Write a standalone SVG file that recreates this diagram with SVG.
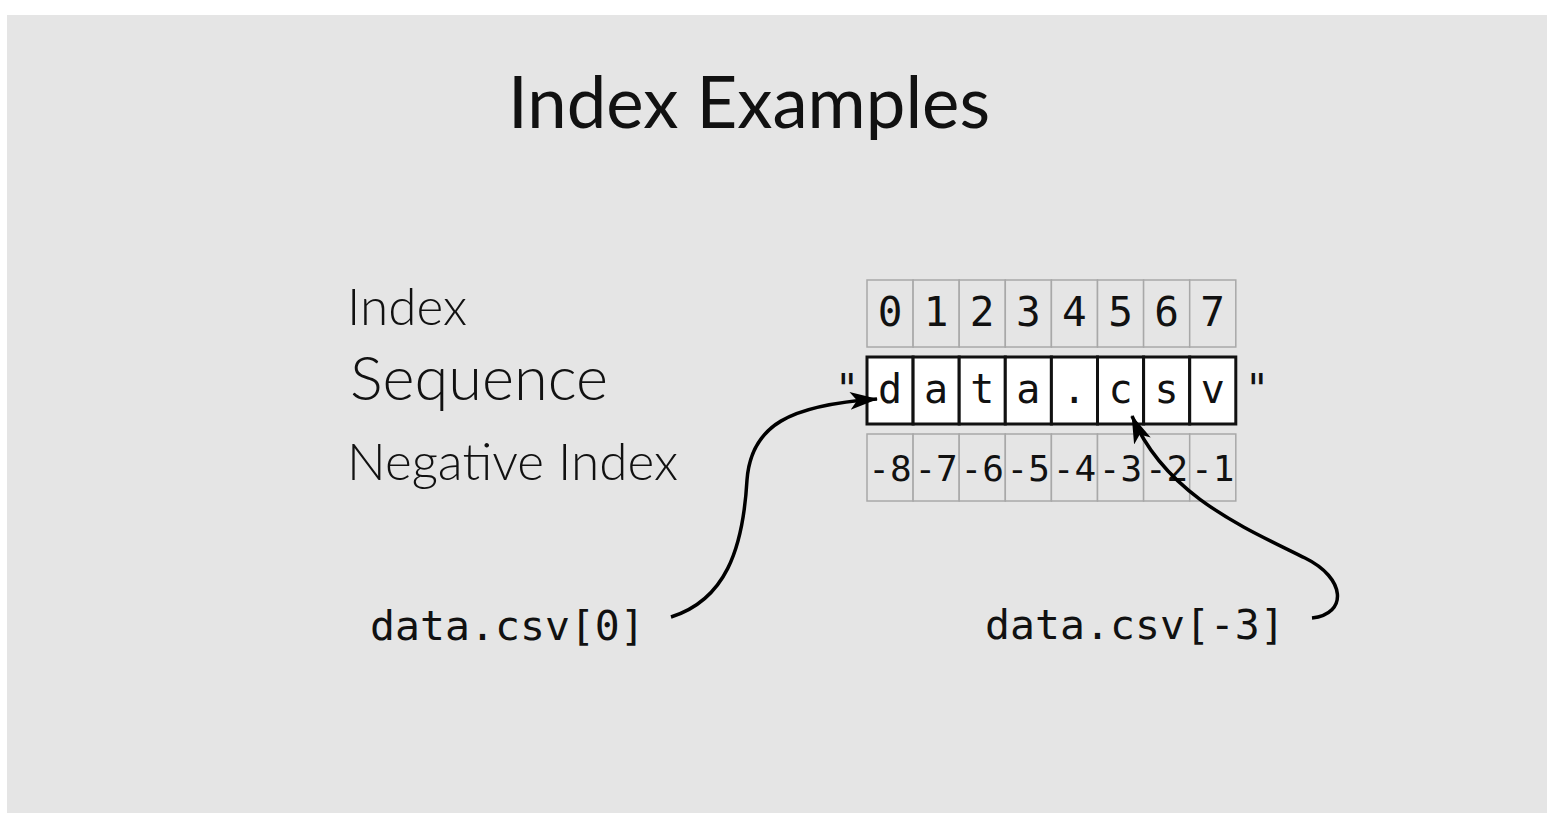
<svg xmlns="http://www.w3.org/2000/svg" width="1556" height="824" viewBox="0 0 1556 824">
<style>
.lbl{font-family:Lato,"Open Sans",sans-serif;font-weight:300;fill:#111}
.mono{font-family:"DejaVu Sans Mono","Liberation Mono",monospace;fill:#111}
.gc{fill:#e5e5e5;stroke:#a8a8a8;stroke-width:1.5}
.sc{fill:#fff;stroke:#111;stroke-width:3}
.conn{fill:none;stroke:#000;stroke-width:3.5}
</style>
<defs>
<marker id="ah" markerUnits="userSpaceOnUse" markerWidth="30" markerHeight="20" refX="27" refY="10" orient="auto">
<path d="M0,1 L28,10 L0,19 L7,10 z" fill="#000"/>
</marker>
</defs>
<rect x="0" y="0" width="1556" height="824" fill="#fff"/>
<rect x="7" y="15" width="1540" height="798" fill="#e5e5e5"/>
<g id="title"><text class="lbl" style="font-weight:400" x="508" y="128" font-size="72" textLength="482" lengthAdjust="spacingAndGlyphs">Index Examples</text></g>
<g id="labels">
<text class="lbl" x="347" y="325" font-size="51" textLength="120" lengthAdjust="spacingAndGlyphs">Index</text>
<text class="lbl" x="350" y="400" font-size="61" textLength="258" lengthAdjust="spacingAndGlyphs">Sequence</text>
<text class="lbl" x="347" y="480" font-size="51" textLength="331" lengthAdjust="spacingAndGlyphs">Negative Index</text>
</g>
<g id="index-row">
<rect class="gc" x="867" y="280" width="46.1" height="67"/>
<rect class="gc" x="913.1" y="280" width="46.1" height="67"/>
<rect class="gc" x="959.2" y="280" width="46.1" height="67"/>
<rect class="gc" x="1005.3" y="280" width="46.1" height="67"/>
<rect class="gc" x="1051.4" y="280" width="46.1" height="67"/>
<rect class="gc" x="1097.5" y="280" width="46.1" height="67"/>
<rect class="gc" x="1143.6" y="280" width="46.1" height="67"/>
<rect class="gc" x="1189.7" y="280" width="46.1" height="67"/>
<g class="mono" font-size="41" text-anchor="middle">
<text x="890" y="326">0</text><text x="936.1" y="326">1</text><text x="982.2" y="326">2</text><text x="1028.3" y="326">3</text><text x="1074.4" y="326">4</text><text x="1120.5" y="326">5</text><text x="1166.6" y="326">6</text><text x="1212.7" y="326">7</text>
</g>
</g>
<g id="sequence-row">
<rect class="sc" x="867" y="357" width="46.1" height="67"/>
<rect class="sc" x="913.1" y="357" width="46.1" height="67"/>
<rect class="sc" x="959.2" y="357" width="46.1" height="67"/>
<rect class="sc" x="1005.3" y="357" width="46.1" height="67"/>
<rect class="sc" x="1051.4" y="357" width="46.1" height="67"/>
<rect class="sc" x="1097.5" y="357" width="46.1" height="67"/>
<rect class="sc" x="1143.6" y="357" width="46.1" height="67"/>
<rect class="sc" x="1189.7" y="357" width="46.1" height="67"/>
<g class="mono" font-size="40" text-anchor="middle">
<text x="890" y="403">d</text><text x="936.1" y="403">a</text><text x="982.2" y="403">t</text><text x="1028.3" y="403">a</text><text x="1074.4" y="403">.</text><text x="1120.5" y="403">c</text><text x="1166.6" y="403">s</text><text x="1212.7" y="403">v</text>
<text x="847" y="403">"</text><text x="1257" y="403">"</text>
</g>
</g>
<g id="negative-row">
<rect class="gc" x="867" y="434" width="46.1" height="67"/>
<rect class="gc" x="913.1" y="434" width="46.1" height="67"/>
<rect class="gc" x="959.2" y="434" width="46.1" height="67"/>
<rect class="gc" x="1005.3" y="434" width="46.1" height="67"/>
<rect class="gc" x="1051.4" y="434" width="46.1" height="67"/>
<rect class="gc" x="1097.5" y="434" width="46.1" height="67"/>
<rect class="gc" x="1143.6" y="434" width="46.1" height="67"/>
<rect class="gc" x="1189.7" y="434" width="46.1" height="67"/>
<g class="mono" font-size="36" text-anchor="middle">
<text x="890" y="481">-8</text><text x="936.1" y="481">-7</text><text x="982.2" y="481">-6</text><text x="1028.3" y="481">-5</text><text x="1074.4" y="481">-4</text><text x="1120.5" y="481">-3</text><text x="1166.6" y="481">-2</text><text x="1212.7" y="481">-1</text>
</g>
</g>
<g id="expr-0"><text class="mono" x="370" y="640" font-size="41.5">data.csv[0]</text></g>
<g id="expr-neg3"><text class="mono" x="985" y="639" font-size="41.5">data.csv[-3]</text></g>
<g id="connectors">
<path class="conn" marker-end="url(#ah)" d="M671,617 C725,600 743,550 747,480 C751,425 790,405 877,399"/>
<path class="conn" marker-end="url(#ah)" d="M1312,618 C1348,614 1346,578 1305,558 C1245,528 1165,495 1132,416"/>
</g>
</svg>
